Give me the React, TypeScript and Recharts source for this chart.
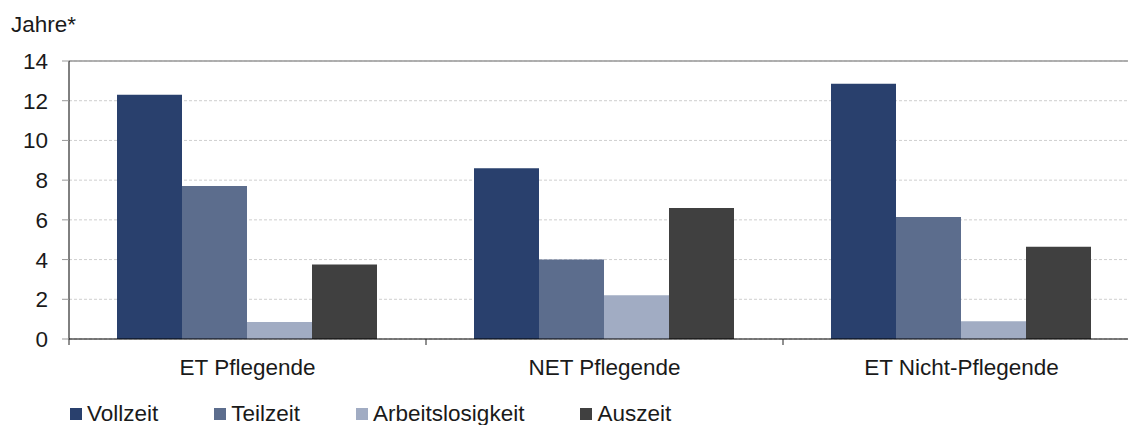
import React from 'react';
import {
  BarChart, Bar, XAxis, YAxis, CartesianGrid, Legend, ReferenceLine,
} from 'recharts';

const categories = ['ET Pflegende', 'NET Pflegende', 'ET Nicht-Pflegende'];
const vollzeit = [12.3, 8.6, 12.85];
const teilzeit = [7.7, 4.0, 6.15];
const arbeitslosigkeit = [0.85, 2.2, 0.9];
const auszeit = [3.75, 6.6, 4.65];
const yTicks = [0, 2, 4, 6, 8, 10, 12, 14];

const series = [
  { key: 'vollzeit', name: 'Vollzeit', color: '#29406d' },
  { key: 'teilzeit', name: 'Teilzeit', color: '#5c6d8d' },
  { key: 'arbeitslosigkeit', name: 'Arbeitslosigkeit', color: '#a1acc3' },
  { key: 'auszeit', name: 'Auszeit', color: '#404040' },
];

const data = categories.map((name, i) => ({
  name,
  vollzeit: vollzeit[i],
  teilzeit: teilzeit[i],
  arbeitslosigkeit: arbeitslosigkeit[i],
  auszeit: auszeit[i],
}));

const FONT = '"Liberation Sans", Arial, sans-serif';
const INK = '#1a1a1a';

// category label plus tick marks on the band edges (not the centers)
function CategoryTick(props: any) {
  const { x, y, payload, index, visibleTicksCount } = props;
  const half = payload.offset ?? 0;
  const last = index === (visibleTicksCount ?? categories.length) - 1;
  return (
    <g>
      <line x1={x - half} x2={x - half} y1={y} y2={y + 6} stroke="#222" />
      {last && <line x1={x + half} x2={x + half} y1={y} y2={y + 6} stroke="#222" />}
      <text x={x} y={y + 20} dy="0.71em" textAnchor="middle" fill={INK}
        style={{ fontFamily: FONT, fontSize: 22.5 }}>
        {payload.value}
      </text>
    </g>
  );
}

function LegendRow() {
  return (
    <div style={{
      height: 30, paddingTop: 8, boxSizing: 'border-box', paddingLeft: 70,
      display: 'flex', alignItems: 'center', fontFamily: FONT, fontSize: 22.5, color: INK,
    }}>
      {series.map((s) => (
        <div key={s.key} style={{ display: 'flex', alignItems: 'center', marginRight: 56, lineHeight: '20px', height: 20 }}>
          <span style={{ width: 12, height: 12, background: s.color, marginRight: 5, display: 'inline-block' }} />
          {s.name}
        </div>
      ))}
    </div>
  );
}

export default function App() {
  return (
    <div style={{
      position: 'absolute', left: 0, top: 0, width: 1128, height: 425,
      overflow: 'hidden', background: '#fff',
    }}>
      <div style={{
        position: 'absolute', left: 11, top: 14, fontFamily: FONT,
        fontSize: 22.5, lineHeight: '22px', color: INK,
      }}>
        Jahre*
      </div>
      <BarChart
        width={1150}
        height={425}
        data={data}
        margin={{ top: 61, right: 10, left: 0, bottom: 0 }}
        barCategoryGap={48}
        barGap={0}
      >
        <CartesianGrid vertical={false} stroke="#cfcfcf" strokeDasharray="3 2" />
        <ReferenceLine y={14} stroke="#999" strokeWidth={1.5} />
        <XAxis
          dataKey="name"
          height={56}
          axisLine={{ stroke: '#000' }}
          tickLine={false}
          tickSize={0}
          tickMargin={0}
          tick={<CategoryTick />}
          interval={0}
        />
        <YAxis
          width={69}
          domain={[0, 14]}
          ticks={yTicks}
          axisLine={{ stroke: '#000' }}
          tickLine={{ stroke: '#999' }}
          tickSize={7}
          tickMargin={14}
          tick={{ fill: INK, fontSize: 22.5, fontFamily: FONT }}
          interval={0}
        />
        <Legend verticalAlign="bottom" content={<LegendRow />} />
        {series.map((s) => (
          <Bar key={s.key} dataKey={s.key} name={s.name} fill={s.color} isAnimationActive={false} />
        ))}
      </BarChart>
    </div>
  );
}
